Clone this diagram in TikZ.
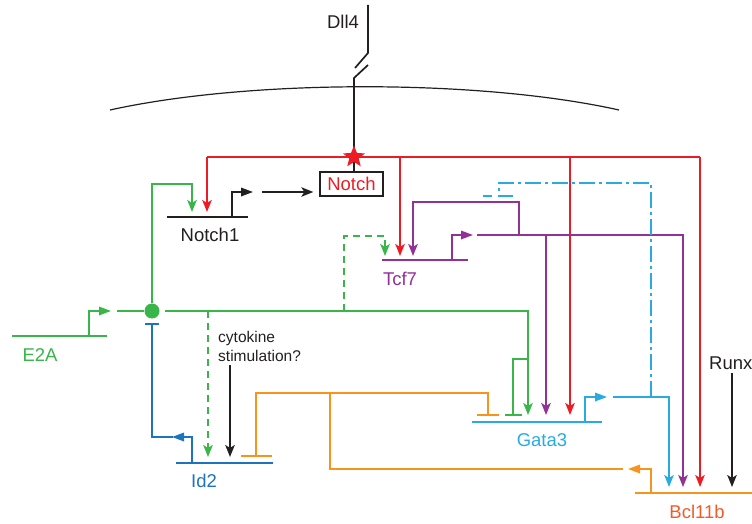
\documentclass[tikz,border=0pt]{standalone}
\usepackage{fontspec}
\setmainfont{Liberation Sans}
\usetikzlibrary{arrows.meta,shapes.geometric}
\definecolor{cgreen}{RGB}{57,181,74}
\definecolor{cred}{RGB}{237,28,36}
\definecolor{cpurple}{RGB}{146,49,150}
\definecolor{ccyan}{RGB}{41,171,226}
\definecolor{cblue}{RGB}{28,117,188}
\definecolor{corange}{RGB}{247,148,29}
\definecolor{cbcl}{RGB}{241,90,41}
\definecolor{cblack}{RGB}{35,31,32}
\begin{document}
\begin{tikzpicture}[x=1pt,y=-1pt,
  every node/.style={font=\fontsize{18.5}{21}\selectfont, inner sep=0pt},
  ln/.style={line width=1.7pt},
  act/.style={ln,-{Stealth[length=12pt,width=9.5pt,inset=3pt]}},
  prom/.style={ln,-{Triangle[length=12pt,width=8.5pt]}},
  inh/.style={ln,-{Bar[width=#1]}},
  dsh/.style={dash pattern=on 7pt off 5pt},
  dashdot/.style={dash pattern=on 16pt off 4pt on 3pt off 4pt}]
\useasboundingbox (0,0) rectangle (752,524);

% ---------- coordinates ----------
\coordinate (memL) at (110,110);
\coordinate (memR) at (619,110);
\coordinate (dllTop) at (368,5);
\coordinate (dllA) at (368,53);
\coordinate (dllB) at (355,68);
\coordinate (dllC) at (368,65);
\coordinate (dllD) at (354,78);
% Notch1 gene
\coordinate (n1L) at (167,217);
\coordinate (n1R) at (248,217);
\coordinate (n1P) at (232,217);
\coordinate (n1Pt) at (253,192);
\coordinate (n1out) at (262,192);
\coordinate (n1inG) at (192,212);
\coordinate (n1inR) at (207,212);
% Tcf7 gene
\coordinate (tL) at (382,260);
\coordinate (tR) at (468,260);
\coordinate (tP) at (452,260);
\coordinate (tPt) at (473,235);
\coordinate (tout) at (477,235);
\coordinate (tinG) at (385,256);
\coordinate (tinR) at (400,256);
\coordinate (tinP) at (413,256);
\coordinate (tloop) at (519,235);
% E2A gene
\coordinate (eL) at (12,336);
\coordinate (eR) at (107,336);
\coordinate (eP) at (89,336);
\coordinate (ePt) at (111,311);
\coordinate (eout) at (117,311);
\coordinate (gR) at (165,311);
% Id2 gene
\coordinate (iL) at (176,463);
\coordinate (iR) at (273,463);
\coordinate (iP) at (192,463);
\coordinate (iPt) at (172,437);
\coordinate (ibar) at (152,323);
\coordinate (iinG) at (208,457);
\coordinate (iinK) at (230,457);
\coordinate (iinO) at (256,457);
% Gata3 gene
\coordinate (gL) at (472,422);
\coordinate (gRt) at (602,422);
\coordinate (gP) at (585,422);
\coordinate (gPt) at (607,397);
\coordinate (gout) at (613,397);
\coordinate (ginG) at (528,415);
\coordinate (ginP) at (546,415);
\coordinate (ginR) at (570,415);
\coordinate (ginGb) at (513,416);
\coordinate (ginOb) at (488,416);
% Bcl11b gene
\coordinate (bL) at (635,493);
\coordinate (bR) at (760,493);
\coordinate (bP) at (651,493);
\coordinate (bPt) at (628,469);
\coordinate (bout) at (623,469);
\coordinate (binC) at (669,487);
\coordinate (binP) at (683,487);
\coordinate (binR) at (700,487);
\coordinate (binK) at (732,487);
\coordinate (runxS) at (732,373);
\coordinate (cytS) at (230,365);

% ---------- membrane & Dll4 ----------
\draw[line width=1.2pt, cblack] (memL) .. controls (250,79) and (480,79) .. (memR);
\draw[ln, cblack] (dllTop) -- (dllA) -- (dllB);
\node[text=cblack] (dll4) at (343,22) {Dll4};

% ---------- nodes ----------
\node[draw=cblack, line width=1.3pt, text=cred, minimum width=63pt, minimum height=24pt] (notch) at (351.5,184) {Notch};
\draw[ln, cblack] (dllC) -- (dllD) -- (notch.north -| dllD);

\node[text=cblack] (lN1) at (210,235) {Notch1};
\node[text=cpurple] (lT) at (400,279) {Tcf7};
\node[text=cgreen] (lE) at (40,355) {E2A};
\node[text=cblue] (lI) at (204,481) {Id2};
\node[text=ccyan] (lG) at (542,440) {Gata3};
\node[text=cbcl] (lB) at (697,512) {Bcl11b};
\node[text=cblack, anchor=west] (lRunx) at (709,363) {Runx};
\node[text=cblack, anchor=base west, font=\fontsize{15.5}{18}\selectfont] (cyt1) at (218,342) {cytokine};
\node[text=cblack, anchor=base west, font=\fontsize{15.5}{18}\selectfont] (cyt2) at (218,361) {stimulation?};
\node[circle, fill=cgreen, minimum size=15pt] (hub) at (152,311) {};

% ---------- Notch1 ----------
\draw[ln, cblack] (n1L) -- (n1R);
\draw[prom, cblack] (n1P) |- (n1Pt);
\draw[act, cblack, shorten >=6pt] (n1out) -- (n1out -| notch.west);

% ---------- red (Notch) ----------
\coordinate (sc) at (354,157);
\draw[ln, cred] (sc -| n1inR) -- (sc -| binR);
\draw[act, cred] (sc -| n1inR) -- (n1inR);
\draw[act, cred] (sc -| tinR) -- (tinR);
\draw[act, cred] (sc -| ginR) -- (ginR);
\draw[act, cred] (sc -| binR) -- (binR);
\node[star, star points=5, star point ratio=2.3, fill=cred, minimum size=23pt] (star) at (sc) {};

% ---------- E2A / green ----------
\draw[ln, cgreen] (eL) -- (eR);
\draw[prom, cgreen] (eP) |- (ePt);
\draw[ln, cgreen] (eout) -- (hub);
\draw[act, cgreen] (hub) -- (hub |- 0,184) -| (n1inG);
\draw[act, cgreen] (gR) -| (ginG);
\draw[inh=17pt, cgreen] (ginG |- 0,359) -| (ginGb);
\draw[act, cgreen, dsh] (iinG |- gR) -- (iinG);
\draw[act, cgreen, dsh] (344,311) |- (tinG |- 0,236) -- (tinG);

% ---------- Tcf7 / purple ----------
\draw[ln, cpurple] (tL) -- (tR);
\draw[prom, cpurple] (tP) |- (tPt);
\draw[act, cpurple] (tout) -| (binP);
\draw[act, cpurple] (tloop) |- (tinP |- 0,202) -- (tinP);
\draw[act, cpurple] (ginP |- tout) -- (ginP);

% ---------- Id2 / blue ----------
\draw[ln, cblue] (iL) -- (iR);
\draw[prom, cblue] (iP) |- (iPt);
\draw[inh=14pt, cblue] ([xshift=1pt]iPt) -| (ibar);
\draw[act, cblack] (cytS) -- (iinK);

% ---------- Gata3 / cyan ----------
\draw[ln, ccyan] (gL) -- (gRt);
\draw[prom, ccyan] (gP) |- (gPt);
\draw[act, ccyan] (gout) -| (binC);
\draw[ln, ccyan, dashdot] (651,397) -- (651,183) -| (499,196);
\draw[ln, ccyan, dash pattern=on 9pt off 6pt on 15pt off 2pt] (483,196) -- (513,196);

% ---------- Bcl11b / orange ----------
\draw[ln, corange] (bL) -- (bR);
\draw[prom, corange] (bP) |- (bPt);
\draw[ln, corange] (bout) -| (330,393);
\draw[inh=31pt, corange] (330,393) -| (iinO);
\draw[inh=22pt, corange] (330,393) -| (ginOb);

% ---------- Runx ----------
\draw[act, cblack] (runxS) -- (binK);
\end{tikzpicture}
\end{document}
